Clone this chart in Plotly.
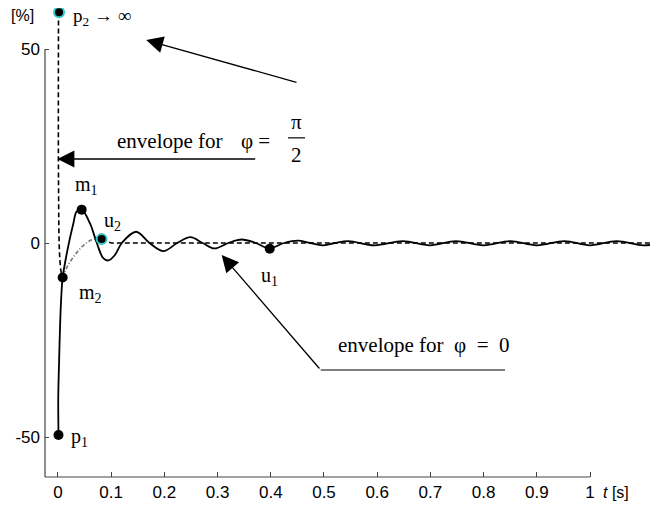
import plotly.graph_objects as go

# ---------------- data ----------------
resp_x = [0.001, 0.0005, 0.002, 0.004, 0.0065, 0.0088, 0.019, 0.029, 0.035, 0.0445,
          0.060, 0.073, 0.085, 0.0945, 0.107, 0.120, 0.147, 0.172, 0.198, 0.224,
          0.249, 0.272, 0.294, 0.320, 0.345, 0.372, 0.397, 0.425, 0.451, 0.474,
          0.497, 0.520, 0.546, 0.595, 0.648, 0.699, 0.748, 0.800, 0.850, 0.900,
          0.952, 1.000, 1.050, 1.100, 1.128]
resp_y = [-49.5, -40, -31, -21, -13, -8.9, -1.0, 5.1, 8.1, 8.6,
          5.1, 0.0, -3.9, -4.5, -3.1, 0.0, 2.9, 0.0, -2.1, 0.0,
          1.5, 0.0, -1.4, 0.0, 0.9, 0.0, -1.4, 0.0, 0.6, 0.0,
          -0.6, 0.0, 0.5, -0.6, 0.5, -0.6, 0.5, -0.6, 0.5, -0.6,
          0.5, -0.6, 0.5, -0.6, -0.2]

env_pi2_x = [0.001, 0.001, 0.003, 0.006, 0.0088]
env_pi2_y = [59.5, 16, -3, -7.5, -8.9]

env_zero_x = [0.0088, 0.016, 0.026, 0.037, 0.048, 0.063, 0.082]
env_zero_y = [-8.9, -6.5, -4.2, -2.2, -0.6, 0.8, 1.0]

base_x = [0.082, 0.100, 1.128]
base_y = [1.0, 0.0, 0.0]

pts_black_x = [0.001, 0.0088, 0.0445, 0.398]   # p1, m2, m1, u1
pts_black_y = [-49.5, -8.9, 8.6, -1.5]
pts_cyan_x = [0.002, 0.082]                     # p2, u2
pts_cyan_y = [59.5, 1.0]

x_ticks = [0, 0.1, 0.2, 0.3, 0.4, 0.5, 0.6, 0.7, 0.8, 0.9, 1]
x_tick_labels = ["0", "0.1", "0.2", "0.3", "0.4", "0.5", "0.6", "0.7", "0.8", "0.9", "1"]
y_ticks = [-50, 0, 50]
y_tick_labels = ["-50", "0", "50"]

XMIN, XMAX = -0.0244, 1.1278
YMIN, YMAX = -60.31, 60.57

SERIF = "Liberation Serif, Times New Roman, serif"
SANS = "Liberation Sans, Arial, sans-serif"
AX = "#444444"
NB = "\u00a0"

fig = go.Figure()

fig.add_trace(go.Scatter(x=base_x, y=base_y, mode="lines",
                         line=dict(color="black", width=1.6, dash="5px,3px")))
fig.add_trace(go.Scatter(x=env_zero_x, y=env_zero_y, mode="lines", line_shape="spline",
                         line=dict(color="#808080", width=1.8, dash="4px,2px,1px,2px")))
fig.add_trace(go.Scatter(x=env_pi2_x, y=env_pi2_y, mode="lines", line_shape="spline",
                         line=dict(color="black", width=1.6, dash="5px,3px"),
                         cliponaxis=False))
fig.add_trace(go.Scatter(x=resp_x, y=resp_y, mode="lines", line_shape="spline",
                         line=dict(color="black", width=1.8, smoothing=1.0)))
fig.add_trace(go.Scatter(x=pts_black_x, y=pts_black_y, mode="markers", cliponaxis=False,
                         marker=dict(color="black", size=10, line=dict(width=0))))
fig.add_trace(go.Scatter(x=pts_cyan_x, y=pts_cyan_y, mode="markers", cliponaxis=False,
                         marker=dict(color="black", size=10,
                                     line=dict(color="#33c9c9", width=2))))

# axis lines (only across the tick range, as in the reference)
fig.add_shape(type="line", xref="x", yref="paper", x0=XMIN, x1=1, y0=0, y1=0,
              line=dict(color=AX, width=1.2))
fig.add_shape(type="line", xref="paper", yref="y", x0=0, x1=0, y0=YMIN, y1=50,
              line=dict(color=AX, width=1.2))

# fraction bar of pi/2
fig.add_shape(type="line", xref="x", yref="y", x0=0.4323, x1=0.4643, y0=27.1, y1=27.1,
              line=dict(color="black", width=1.2))
# horizontal part of the bent arrow
fig.add_shape(type="line", xref="x", yref="y", x0=0.4938, x1=0.8402, y0=-32.73, y1=-32.73,
              line=dict(color="black", width=1.2))

def arrow(x, y, ax, ay):
    fig.add_annotation(x=x, y=y, ax=ax, ay=ay, xref="x", yref="y", axref="x", ayref="y",
                       text="", showarrow=True, arrowhead=2, arrowsize=2.6,
                       arrowwidth=1.3, arrowcolor="black", standoff=0)

arrow(0.1658, 52.3, 0.4511, 41.3)
arrow(-0.001, 21.65, 0.3735, 21.65)
arrow(0.3077, -3.09, 0.4938, -32.73)

def label(x, y, text, size=20, anchor="left", font=SERIF, xref="x", yref="y"):
    fig.add_annotation(x=x, y=y, xref=xref, yref=yref, text=text, showarrow=False,
                       xanchor=anchor, yanchor="middle", borderpad=0,
                       font=dict(family=font, size=size, color="black"))

label(0.0263, 58.3, "p<sub>2</sub> \u2192 \u221e", size=19)
label(0.109, 26.3, "envelope for", size=21)
label(0.342, 26.3, "\u03c6 =", size=21)
label(0.4483, 31.2, "\u03c0", size=21, anchor="center")
label(0.4483, 22.7, "2", size=21, anchor="center")
label(0.030, 14.9, "m<sub>1</sub>")
label(0.0846, 5.67, "u<sub>2</sub>")
label(0.0376, -12.9, "m<sub>2</sub>")
label(0.3797, -8.76, "u<sub>1</sub>")
label(0.0226, -50.0, "p<sub>1</sub>")
label(0.5239, -26.3, "envelope for" + NB + NB + "\u03c6" + NB + NB + "=" + NB + NB + "0", size=21)
label(-0.0571, 0.983, "[%]", size=16, font=SANS, xref="paper", yref="paper")
label(1.0226, -0.034, "<i>t</i> [s]", size=16, font=SANS, yref="paper")

fig.update_layout(
    width=650, height=498,
    margin=dict(l=37, r=0, t=0, b=29),
    paper_bgcolor="white", plot_bgcolor="white",
    showlegend=False,
    xaxis=dict(range=[XMIN, XMAX], showgrid=False, zeroline=False, showline=False,
               tickmode="array", tickvals=x_ticks, ticktext=x_tick_labels,
               ticks="inside", ticklen=5, tickcolor=AX, tickwidth=1.2,
               ticklabelstandoff=3,
               tickfont=dict(family=SANS, size=17, color="black")),
    yaxis=dict(range=[YMIN, YMAX], showgrid=False, zeroline=False, showline=False,
               tickmode="array", tickvals=y_ticks, ticktext=y_tick_labels,
               ticks="inside", ticklen=4, tickcolor=AX, tickwidth=1.2,
               ticklabelstandoff=4,
               tickfont=dict(family=SANS, size=17, color="black")),
)

fig.write_html("out.html")
